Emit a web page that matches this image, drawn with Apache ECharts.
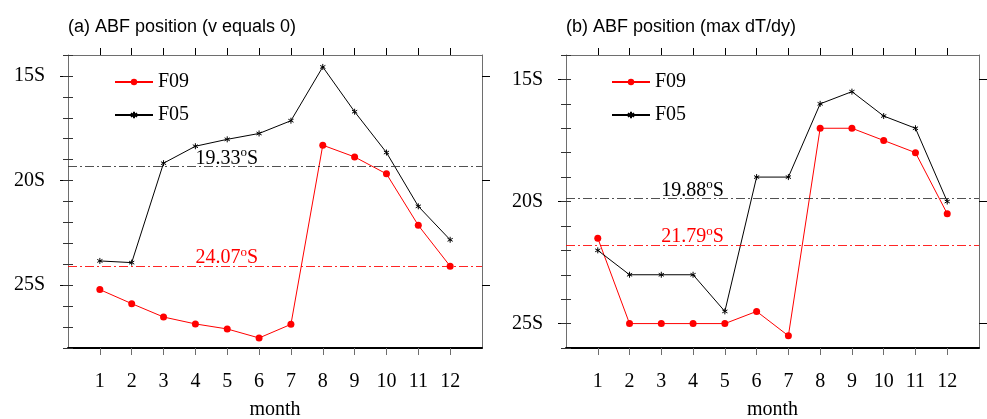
<!DOCTYPE html>
<html>
<head>
<meta charset="utf-8">
<script src="https://cdn.jsdelivr.net/npm/echarts@6/dist/echarts.min.js"></script>
<style>html,body{margin:0;padding:0;background:#fff;}#c{width:987px;height:419px;}</style>
</head>
<body>
<div id="c"></div>
<script>
// ---- data ----
const months = [1,2,3,4,5,6,7,8,9,10,11,12];
const monthTickLabels = ['1','2','3','4','5','6','7','8','9','10','11','12'];
const latTicks = [15, 20, 25];
// panel (a): ABF position (v equals 0), latitude in degrees south
const f09A = [25.21, 25.88, 26.52, 26.85, 27.09, 27.52, 26.87, 18.31, 18.87, 19.68, 22.14, 24.09];
const f05A = [23.84, 23.92, 19.17, 18.36, 18.03, 17.75, 17.14, 14.57, 16.71, 18.66, 21.23, 22.83];
// panel (b): ABF position (max dT/dy)
const f09B = [21.5, 25.0, 25.0, 25.0, 25.0, 24.5, 25.5, 17.0, 17.0, 17.5, 18.0, 20.5];
const f05B = [22.0, 23.0, 23.0, 23.0, 24.5, 19.0, 19.0, 16.0, 15.5, 16.5, 17.0, 20.0];
// annual means shown as reference lines
const meanF09A = 24.07, meanF05A = 19.33;
const meanF09B = 21.79, meanF05B = 19.88;
const titles = ['(a) ABF position (v equals 0)', '(b) ABF position (max dT/dy)'];
const seriesNames = ['F09', 'F05'];

// ---- styling ----
const SERIF = 'Liberation Serif';
const SANS = 'Liberation Sans';
const RED = '#ff0000';
const BLACK = '#000000';
const GRAY = '#6e6e6e';
const ASTER = 'path://M5,0L5,10M0.67,2.5L9.33,7.5M0.67,7.5L9.33,2.5';

function pairs(vals){ return months.map((m,i)=>[m, vals[i]]); }

const grids = [
  {left: 68, top: 55, width: 414, height: 293, outerBoundsMode: 'none', containLabel: false},
  {left: 566, top: 55, width: 413, height: 293, outerBoundsMode: 'none', containLabel: false}
];
const yRanges = [[14, 28], [14, 26]];

const xAxes = [], yAxes = [];
grids.forEach((g, gi) => {
  // bottom
  xAxes.push({
    gridIndex: gi, type: 'value', position: 'bottom', min: 0, max: 13, interval: 1,
    name: 'month', nameLocation: 'middle', nameGap: 52,
    nameTextStyle: {fontFamily: SERIF, fontSize: 20, color: BLACK},
    axisLine: {show: true, onZero: false, lineStyle: {color: BLACK, width: 2}},
    axisTick: {show: true, inside: false, length: 7, customValues: months, lineStyle: {color: GRAY, width: 1}},
    axisLabel: {show: true, margin: 24, customValues: months,
      formatter: v => monthTickLabels[months.indexOf(v)] || '',
      fontFamily: SERIF, fontSize: 20, color: BLACK},
    splitLine: {show: false}
  });
  // top
  xAxes.push({
    gridIndex: gi, type: 'value', position: 'top', min: 0, max: 13, interval: 1,
    axisLine: {show: true, onZero: false, lineStyle: {color: GRAY, width: 1}},
    axisTick: {show: true, inside: false, length: 7, customValues: months, lineStyle: {color: BLACK, width: 1}},
    axisLabel: {show: false},
    splitLine: {show: false}
  });
  const [ymin, ymax] = yRanges[gi];
  ['left', 'right'].forEach(pos => {
    // major
    yAxes.push({
      gridIndex: gi, type: 'value', position: pos, inverse: true, min: ymin, max: ymax, interval: 1,
      axisLine: {show: true, onZero: false, lineStyle: {color: GRAY, width: 1}},
      axisTick: {show: true, inside: false, length: 8, customValues: latTicks, lineStyle: {color: BLACK, width: 1}},
      axisLabel: {show: pos === 'left', margin: 23, customValues: latTicks, formatter: v => v + 'S',
        fontFamily: SERIF, fontSize: 20, color: BLACK},
      splitLine: {show: false}
    });
    // minor
    yAxes.push({
      gridIndex: gi, type: 'value', position: pos, inverse: true, min: ymin, max: ymax, interval: 1,
      axisLine: {show: false},
      axisTick: {show: true, inside: false, length: 5, lineStyle: {color: '#333', width: 1}},
      axisLabel: {show: false},
      splitLine: {show: false}
    });
  });
});

function meanLabel(val, color, xPos){
  return {
    symbol: 'circle', symbolSize: 0, silent: true,
    data: [{coord: [xPos, val], value: val}],
    label: {
      show: true, position: 'top', align: 'left', distance: -2,
      formatter: p => '{n|' + p.value.toFixed(2) + '}{s|o}{n|S}',
      rich: {
        n: {fontFamily: SERIF, fontSize: 20, color: color, verticalAlign: 'bottom'},
        s: {fontFamily: SERIF, fontSize: 13, color: color, verticalAlign: 'bottom', padding: [0, 0, 9, 0]}
      }
    }
  };
}
function meanLine(val, color){
  return {
    silent: true, symbol: 'none',
    lineStyle: {color: color, type: [9, 3, 2, 3], width: 1, opacity: 0.85},
    label: {show: false},
    data: [{yAxis: val}]
  };
}

const panels = [
  {f09: f09A, f05: f05A, m09: meanF09A, m05: meanF05A, lx: 4},
  {f09: f09B, f05: f05B, m09: meanF09B, m05: meanF05B, lx: 3}
];
const series = [];
panels.forEach((p, gi) => {
  series.push({
    name: seriesNames[0], type: 'line', xAxisIndex: gi * 2, yAxisIndex: gi * 4,
    data: pairs(p.f09), symbol: 'circle', symbolSize: 7, showSymbol: true,
    lineStyle: {color: RED, width: 1}, itemStyle: {color: RED},
    markLine: meanLine(p.m09, RED), markPoint: meanLabel(p.m09, RED, p.lx),
    z: 3
  });
  series.push({
    name: seriesNames[1], type: 'line', xAxisIndex: gi * 2, yAxisIndex: gi * 4,
    data: pairs(p.f05), symbol: ASTER, symbolSize: 6, symbolKeepAspect: true, showSymbol: true,
    lineStyle: {color: BLACK, width: 1}, itemStyle: {color: BLACK, borderColor: BLACK, borderWidth: 1},
    markLine: meanLine(p.m05, '#333'), markPoint: meanLabel(p.m05, BLACK, p.lx),
    z: 4
  });
});

const legendBase = {
  orient: 'vertical', itemWidth: 38, itemHeight: 8, itemGap: 13, padding: 0,
  textStyle: {fontFamily: SERIF, fontSize: 20, color: BLACK},
  data: seriesNames, selectedMode: false
};

const option = {
  animation: false,
  backgroundColor: '#fff',
  title: titles.map((t, i) => ({
    text: t, left: grids[i].left, top: 18, padding: 0,
    textStyle: {fontFamily: SANS, fontSize: 18, fontWeight: 'normal', color: BLACK}
  })),
  legend: [
    Object.assign({}, legendBase, {left: 114, top: 72}),
    Object.assign({}, legendBase, {left: 611, top: 72})
  ],
  grid: grids,
  xAxis: xAxes,
  yAxis: yAxes,
  series: series
};

const chart = echarts.init(document.getElementById('c'), null, {renderer: 'canvas'});
chart.setOption(option);
</script>
</body>
</html>
